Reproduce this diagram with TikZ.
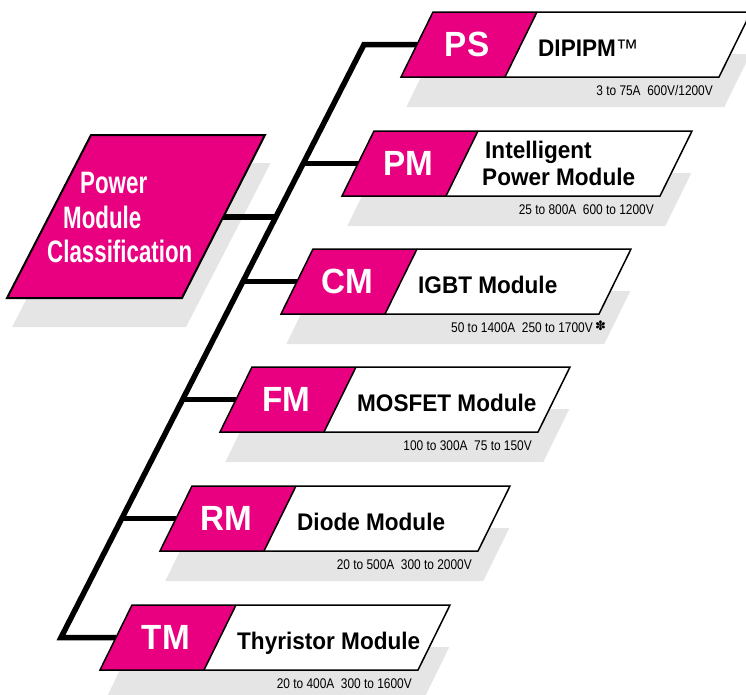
\documentclass[tikz,border=0pt]{standalone}
\usepackage{fontspec}
\setmainfont{Liberation Sans}
\newfontfamily\maincond[FakeStretch=0.72]{Liberation Sans}
\newfontfamily\subcond[FakeStretch=0.85]{Liberation Sans}
\newfontfamily\codefont[FakeStretch=0.95]{Liberation Sans}
\newfontfamily\descfont[FakeStretch=0.94]{Liberation Sans}
\newfontfamily\symfont{DejaVu Sans}
\definecolor{pmmag}{RGB}{232,0,128}
\definecolor{pmshadow}{RGB}{229,229,229}

\tikzset{
  codetext/.style={anchor=base, text=white, font=\codefont\bfseries\fontsize{35}{35}\selectfont, inner sep=0pt},
  desctext/.style={anchor=base west, font=\descfont\bfseries\fontsize{24}{24}\selectfont, inner sep=0pt},
  subtext/.style={anchor=base east, font=\subcond\fontsize{14}{14}\selectfont, inner sep=0pt},
  maintext/.style={anchor=base west, text=white, font=\maincond\bfseries\fontsize{31}{31}\selectfont, inner sep=0pt},
  boxline/.style={draw=black, line width=1.5pt, line join=miter},
  trunk/.style={draw=black, line width=5.5pt, line join=miter}
}

% a = top-left x, T = top y (pixel coordinates, y downward)
\newcommand\ModShadow[2]{%
  \fill[pmshadow] ({#1-0.7},{#2+42}) -- ({#1+317.3},{#2+42}) -- ({#1+291.3},{#2+95}) -- ({#1-26.7},{#2+95}) -- cycle;}
\newcommand\ModIn[3]{\coordinate (#1-in) at ({#2-16},{#3+32.5});}
\newcommand\ModBox[6]{%
  \fill[pmmag] (#2,#3) -- ({#2+104},#3) -- ({#2+72},{#3+65}) -- ({#2-32},{#3+65}) -- cycle;
  \fill[white] ({#2+104},#3) -- ({#2+318},#3) -- ({#2+286},{#3+65}) -- ({#2+72},{#3+65}) -- cycle;
  \draw[boxline] (#2,#3) -- ({#2+318},#3) -- ({#2+286},{#3+65}) -- ({#2-32},{#3+65}) -- cycle;
  \draw[boxline] ({#2+104},#3) -- ({#2+72},{#3+65});
  \node[codetext] (#1-code) at ({#2+34},{#3+44}) {#4};
  \node[desctext] (#1-desc) at ({#2+105},{#3+44}) {#5};
  \node[subtext] (#1-sub) at ({#2+280},{#3+83}) {#6};
}

\begin{document}
\begin{tikzpicture}[x=1pt,y=-1pt]
\useasboundingbox (0,0) rectangle (746,694);

% shadows
\fill[pmshadow] (96.6,163) -- (270.6,163) -- (186,327) -- (12.1,327) -- cycle;
\ModShadow{433}{12}
\ModShadow{374}{131}
\ModShadow{313}{249}
\ModShadow{252}{367}
\ModShadow{192}{486}
\ModShadow{132}{605}

% connection points
\ModIn{PS}{433}{12}
\ModIn{PM}{374}{131}
\ModIn{CM}{313}{249}
\ModIn{FM}{252}{367}
\ModIn{RM}{192}{486}
\ModIn{TM}{132}{605}
\coordinate (top) at (364,44.5);
\coordinate (bot) at (61,637.5);
\coordinate (j-main) at (275.9,217);
\coordinate (j-PM) at (303.2,163.5);
\coordinate (j-CM) at (242.9,281.5);
\coordinate (j-FM) at (182.6,399.5);
\coordinate (j-RM) at (121.8,518.5);
\coordinate (main-out) at (215,217);

% trunk and branches
\draw[trunk] (PS-in) -- (top) -- (bot) -- (TM-in);
\draw[trunk] (main-out) -- (j-main);
\draw[trunk] (j-PM) -- (PM-in);
\draw[trunk] (j-CM) -- (CM-in);
\draw[trunk] (j-FM) -- (FM-in);
\draw[trunk] (j-RM) -- (RM-in);

% main box
\draw[fill=pmmag, line width=2pt, line join=miter] (91,135) -- (265,135) -- (182,298) -- (7,298) -- cycle;
\node[maintext] (m1) at (80,193) {Power};
\node[maintext] (m2) at (63,228) {Module};
\node[maintext] (m3) at (47,262) {Classification};

% module boxes
\ModBox{PS}{433}{12}{PS}{DIPIPM{\mdseries ™}}{3 to 75A\ \ 600V/1200V}
\ModBox{PM}{374}{131}{PM}{}{25 to 800A\ \ 600 to 1200V}
\node[desctext] (PM-d1) at (485,158) {Intelligent};
\node[desctext] (PM-d2) at (482,185) {Power Module};
\ModBox{CM}{313}{249}{CM}{IGBT Module}{50 to 1400A\ \ 250 to 1700V\rlap{\,\raisebox{2pt}{\symfont\bfseries\fontsize{13}{13}\selectfont ✽}}}
\ModBox{FM}{252}{367}{FM}{MOSFET Module}{100 to 300A\ \ 75 to 150V}
\ModBox{RM}{192}{486}{RM}{Diode Module}{20 to 500A\ \ 300 to 2000V}
\ModBox{TM}{132}{605}{TM}{Thyristor Module}{20 to 400A\ \ 300 to 1600V}
\end{tikzpicture}
\end{document}
